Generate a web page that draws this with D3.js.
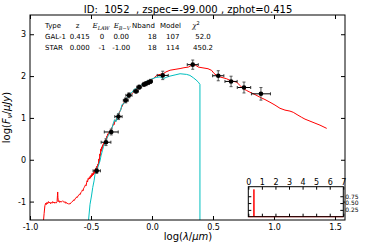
<!DOCTYPE html>
<html><head><meta charset="utf-8">
<script src="https://cdn.jsdelivr.net/npm/d3@7"></script>
<style>body{margin:0;background:#fff} svg{display:block} text{font-family:"DejaVu Sans",sans-serif}</style>
</head><body><svg id="c" width="368" height="245"></svg>
<script>
// ---- data ----
const title = "ID:  1052  , zspec=-99.000 , zphot=0.415";
const galSpec = [[-0.891,-1.50],[-0.884,-1.28],[-0.878,-1.10],[-0.872,-1.04],[-0.866,-1.07],[-0.861,-1.02],[-0.855,-1.05],[-0.849,-1.00],[-0.844,-1.03],[-0.838,-1.01],[-0.832,-1.05],[-0.826,-1.02],[-0.820,-1.04],[-0.814,-1.00],[-0.808,-1.03],[-0.802,-1.01],[-0.796,-1.04],[-0.790,-1.02],[-0.784,-1.03],[-0.778,-1.00],[-0.775,-0.86],[-0.773,-0.77],[-0.771,-0.90],[-0.768,-1.00],[-0.762,-0.98],[-0.756,-1.02],[-0.750,-0.99],[-0.744,-1.01],[-0.738,-1.00],[-0.732,-0.98],[-0.726,-1.00],[-0.720,-1.02],[-0.714,-1.00],[-0.708,-1.04],[-0.702,-1.02],[-0.696,-1.05],[-0.690,-1.04],[-0.684,-1.06],[-0.678,-1.05],[-0.672,-1.06],[-0.666,-1.03],[-0.660,-1.02],[-0.654,-1.00],[-0.648,-0.99],[-0.642,-0.96],[-0.636,-0.97],[-0.630,-0.93],[-0.624,-0.92],[-0.618,-0.89],[-0.612,-0.90],[-0.606,-0.86],[-0.600,-0.85],[-0.594,-0.82],[-0.588,-0.83],[-0.582,-0.78],[-0.576,-0.76],[-0.570,-0.72],[-0.565,-0.74],[-0.560,-0.68],[-0.555,-0.66],[-0.550,-0.63],[-0.545,-0.60],[-0.540,-0.62],[-0.536,-0.55],[-0.532,-0.50],[-0.528,-0.53],[-0.524,-0.45],[-0.520,-0.47],[-0.516,-0.43],[-0.512,-0.46],[-0.508,-0.40],[-0.504,-0.44],[-0.500,-0.37],[-0.496,-0.41],[-0.492,-0.33],[-0.488,-0.38],[-0.484,-0.32],[-0.480,-0.36],[-0.476,-0.28],[-0.472,-0.33],[-0.468,-0.23],[-0.464,-0.29],[-0.460,-0.20],[-0.456,-0.24],[-0.452,-0.15],[-0.448,-0.20],[-0.444,-0.10],[-0.440,-0.14],[-0.436,0.02],[-0.432,-0.05],[-0.428,0.14],[-0.424,0.08],[-0.420,0.26],[-0.416,0.20],[-0.412,0.31],[-0.408,0.26],[-0.404,0.36],[-0.400,0.33],[-0.396,0.40],[-0.392,0.37],[-0.388,0.45],[-0.384,0.42],[-0.380,0.50],[-0.376,0.47],[-0.372,0.56],[-0.368,0.53],[-0.364,0.62],[-0.358,0.60],[-0.352,0.66],[-0.346,0.64],[-0.340,0.72],[-0.334,0.70],[-0.328,0.78],[-0.322,0.80],[-0.316,0.86],[-0.310,0.84],[-0.304,0.93],[-0.298,0.92],[-0.292,0.98],[-0.286,1.00],[-0.280,1.04],[-0.274,1.08],[-0.268,1.12],[-0.262,1.17],[-0.256,1.20],[-0.250,1.25],[-0.244,1.28],[-0.238,1.32],[-0.232,1.36],[-0.226,1.38],[-0.220,1.41],[-0.214,1.43],[-0.207,1.46],[-0.198,1.48],[-0.189,1.51],[-0.180,1.54],[-0.172,1.56],[-0.162,1.59],[-0.153,1.615],[-0.142,1.64],[-0.131,1.655],[-0.115,1.70],[-0.098,1.735],[-0.086,1.76],[-0.074,1.79],[-0.058,1.81],[-0.043,1.83],[-0.030,1.87],[-0.016,1.91],[0.000,1.92],[0.011,1.94],[0.025,1.98],[0.039,2.02],[0.066,2.04],[0.093,2.06],[0.115,2.10],[0.148,2.14],[0.189,2.16],[0.230,2.18],[0.262,2.20],[0.298,2.215],[0.320,2.25],[0.334,2.27],[0.352,2.27],[0.380,2.215],[0.418,2.196],[0.459,2.176],[0.489,2.136],[0.508,2.064],[0.530,2.016],[0.557,1.98],[0.612,1.936],[0.639,1.896],[0.694,1.855],[0.721,1.776],[0.746,1.703],[0.776,1.655],[0.803,1.615],[0.844,1.559],[0.885,1.495],[0.926,1.439],[0.967,1.375],[1.008,1.307],[1.049,1.23],[1.090,1.187],[1.131,1.163],[1.158,1.134],[1.189,1.079],[1.227,1.014],[1.254,0.971],[1.295,0.923],[1.336,0.875],[1.377,0.827],[1.432,0.75]];
const starSpec = [[-0.522,-1.50],[-0.508,-1.065],[-0.496,-0.866],[-0.486,-0.666],[-0.475,-0.505],[-0.467,-0.345],[-0.455,-0.241],[-0.445,-0.186],[-0.434,-0.097],[-0.426,-0.025],[-0.418,0.095],[-0.407,0.215],[-0.398,0.311],[-0.385,0.414],[-0.373,0.503],[-0.358,0.575],[-0.344,0.671],[-0.330,0.743],[-0.320,0.839],[-0.307,0.959],[-0.295,0.911],[-0.283,1.055],[-0.270,1.127],[-0.258,1.175],[-0.246,1.319],[-0.230,1.343],[-0.213,1.463],[-0.197,1.487],[-0.180,1.583],[-0.164,1.607],[-0.148,1.679],[-0.123,1.703],[-0.098,1.763],[-0.074,1.812],[-0.049,1.872],[-0.025,1.896],[0.000,1.932],[0.033,1.968],[0.066,1.980],[0.093,1.936],[0.115,1.968],[0.148,2.000],[0.189,2.028],[0.230,2.056],[0.284,2.040],[0.311,2.016],[0.339,1.960],[0.361,1.908],[0.380,1.855],[0.393,1.800],[0.393,-1.50]];
const photLogLam = [-0.453,-0.377,-0.334,-0.275,-0.215,-0.189,-0.131,-0.105,-0.066,-0.049,-0.029,-0.012,0.088,0.334,0.543,0.648,0.754,0.893];
const photLogF   = [-0.265,0.419,0.664,1.031,1.42,1.54,1.639,1.735,1.80,1.82,1.848,1.872,2.016,2.273,2.008,1.872,1.727,1.576];
const photLamErr = [0.03,0.04,0.057,0.03,0.02,0.025,0.02,0.02,0.015,0.015,0.015,0.015,0.045,0.045,0.046,0.05,0.055,0.078];
const photFErr   = [0.06,0.08,0.07,0.07,0.06,0.06,0.05,0.05,0.05,0.05,0.05,0.05,0.10,0.11,0.12,0.125,0.13,0.15];
const pzZ = [0, 0.40, 0.415, 0.43, 7];
const pzP = [0, 0, 1.0, 0, 0];
const xTicks = [-1.0,-0.5,0.0,0.5,1.0,1.5];
const yTicks = [-1,0,1,2,3];
const pzXTicks = [0,1,2,3,4,5,6,7];
const pzYTicks = [0.25,0.50,0.75];
const tableHeader = ["Type","z","E_LAW","E_B-V","Nband","Model","χ2"];
const tableRows = [["GAL-1","0.415","0","0.00","18","107","52.0"],["STAR","0.000","-1","-1.00","18","114","450.2"]];

// ---- layout ----
const svg = d3.select("#c");
const L=30, R=345, T=15, B=220;
const x = d3.scaleLinear().domain([-1,1.582]).range([L,R]);
const y = d3.scaleLinear().domain([-1.44,3.46]).range([B,T]);

svg.append("defs").append("clipPath").attr("id","clip")
  .append("rect").attr("x",L).attr("y",T).attr("width",R-L).attr("height",B-T);

const plot = svg.append("g").attr("clip-path","url(#clip)");
const line = d3.line().x(d=>x(d[0])).y(d=>y(d[1]));
plot.append("path").attr("d",line(galSpec)).attr("fill","none").attr("stroke","#ff0000").attr("stroke-width",1);
plot.append("path").attr("d",line(starSpec)).attr("fill","none").attr("stroke","#00bfbf").attr("stroke-width",1);

const phot = photLogLam.map((v,i)=>({x:v,y:photLogF[i],ex:photLamErr[i],ey:photFErr[i]}));
const eg = plot.append("g");
phot.forEach(p=>{
  eg.append("line").attr("x1",x(p.x)).attr("x2",x(p.x)).attr("y1",y(p.y-p.ey)).attr("y2",y(p.y+p.ey)).attr("stroke","#555").attr("stroke-width",1);
  [p.y-p.ey,p.y+p.ey].forEach(v=>eg.append("line").attr("x1",x(p.x)-1.5).attr("x2",x(p.x)+1.5).attr("y1",y(v)).attr("y2",y(v)).attr("stroke","#555"));
  eg.append("line").attr("x1",x(p.x-p.ex)).attr("x2",x(p.x+p.ex)).attr("y1",y(p.y)).attr("y2",y(p.y)).attr("stroke","#000").attr("stroke-width",1);
  [p.x-p.ex,p.x+p.ex].forEach(v=>eg.append("line").attr("x1",x(v)).attr("x2",x(v)).attr("y1",y(p.y)-1.5).attr("y2",y(p.y)+1.5).attr("stroke","#333"));
});
plot.append("g").selectAll("circle").data(phot).join("circle")
  .attr("cx",d=>x(d.x)).attr("cy",d=>y(d.y)).attr("r",2.3).attr("fill","#000");

// axes
function styleAxis(g, fs){ g.select(".domain").remove(); g.selectAll("text").attr("font-size",fs||8).attr("font-family","DejaVu Sans").attr("fill","#000"); g.selectAll("line").attr("stroke","#000"); }
svg.append("g").attr("transform",`translate(0,${B})`).call(d3.axisBottom(x).tickValues(xTicks).tickSize(-4).tickPadding(4).tickFormat(v=>v.toFixed(1))).call(styleAxis);
svg.append("g").attr("transform",`translate(0,${T})`).call(d3.axisTop(x).tickValues(xTicks).tickSize(-4).tickFormat("")).call(styleAxis);
svg.append("g").attr("transform",`translate(${L},0)`).call(d3.axisLeft(y).tickValues(yTicks).tickSize(-4).tickPadding(4).tickFormat(v=>String(v))).call(styleAxis);
svg.append("g").attr("transform",`translate(${R},0)`).call(d3.axisRight(y).tickValues(yTicks).tickSize(-4).tickFormat("")).call(styleAxis);
svg.append("rect").attr("x",L).attr("y",T).attr("width",R-L).attr("height",B-T).attr("fill","none").attr("stroke","#000").attr("stroke-width",1);

// title
svg.append("text").attr("x",188).attr("y",12.5).attr("text-anchor","middle").attr("font-size",10).style("white-space","pre").text(title);

// axis labels
const xl = svg.append("text").attr("x",188).attr("y",240).attr("text-anchor","middle").attr("font-family","DejaVu Serif").attr("font-size",10);
xl.append("tspan").text("log(");
xl.append("tspan").attr("font-style","italic").text("λ");
xl.append("tspan").text("/");
xl.append("tspan").attr("font-style","italic").text("μm");
xl.append("tspan").text(")");
const yl = svg.append("text").attr("transform","translate(10,117.5) rotate(-90)").attr("text-anchor","middle").attr("font-family","DejaVu Serif").attr("font-size",10);
yl.append("tspan").text("log(");
yl.append("tspan").attr("font-style","italic").text("F");
yl.append("tspan").attr("font-style","italic").attr("font-size",7).attr("dy",2).text("ν");
yl.append("tspan").attr("dy",-2).text("/");
yl.append("tspan").attr("font-style","italic").text("μJy");
yl.append("tspan").text(")");

// table
const headX = [45,77.5,101,122,143.5,170.5,196];
const rowX = [45,79.7,102,121.2,152.2,172.8,203];
const rowY = [39.3,50];
const tg = svg.append("g").attr("font-size",7);
tableHeader.forEach((h,i)=>{
  const t = tg.append("text").attr("x",headX[i]).attr("y",28.3).attr("text-anchor",i===0?"start":"middle");
  if(h.startsWith("E_")){
    t.append("tspan").attr("font-family","DejaVu Serif").attr("font-style","italic").text("E");
    t.append("tspan").attr("font-family","DejaVu Serif").attr("font-style","italic").attr("font-size",5).attr("dy",1.5).text(h.slice(2).replace("-","−"));
  } else if(h==="χ2"){
    t.append("tspan").attr("font-family","DejaVu Serif").attr("font-style","italic").text("χ");
    t.append("tspan").attr("font-size",5).attr("dy",-3).text("2");
  } else t.text(h);
});
tableRows.forEach((r,j)=>r.forEach((c,i)=>{
  tg.append("text").attr("x",rowX[i]).attr("y",rowY[j]).attr("text-anchor",i===0?"start":"middle").text(c);
}));

// inset P(z)
const IL=248.3, IR=343.3, IT=186.7, IB=216.7;
const zx = d3.scaleLinear().domain([0,7]).range([IL,IR]);
const zy = d3.scaleLinear().domain([0,1.1]).range([IB,IT]);
svg.append("rect").attr("x",IL).attr("y",IT).attr("width",IR-IL).attr("height",IB-IT).attr("fill","#fff");
svg.append("path").attr("d",d3.line().x((d,i)=>zx(pzZ[i])).y((d,i)=>zy(pzP[i]))(pzZ)).attr("fill","none").attr("stroke","#ff0000").attr("stroke-width",1);
svg.append("g").attr("transform",`translate(0,${IT})`).call(d3.axisTop(zx).tickValues(pzXTicks).tickSize(-3).tickPadding(2).tickFormat(d3.format("d"))).call(g=>styleAxis(g,8));
svg.append("g").attr("transform",`translate(0,${IB})`).call(d3.axisBottom(zx).tickValues(pzXTicks).tickSize(-3).tickFormat("")).call(styleAxis);
svg.append("g").attr("transform",`translate(${IL},0)`).call(d3.axisLeft(zy).tickValues(pzYTicks).tickSize(-3).tickFormat("")).call(styleAxis);
svg.append("g").attr("transform",`translate(${IR},0)`).call(d3.axisRight(zy).tickValues(pzYTicks).tickSize(-3).tickPadding(2).tickFormat(d3.format(".2f"))).call(g=>styleAxis(g,6));
svg.append("rect").attr("x",IL).attr("y",IT).attr("width",IR-IL).attr("height",IB-IT).attr("fill","none").attr("stroke","#000").attr("stroke-width",1);
</script></body></html>
